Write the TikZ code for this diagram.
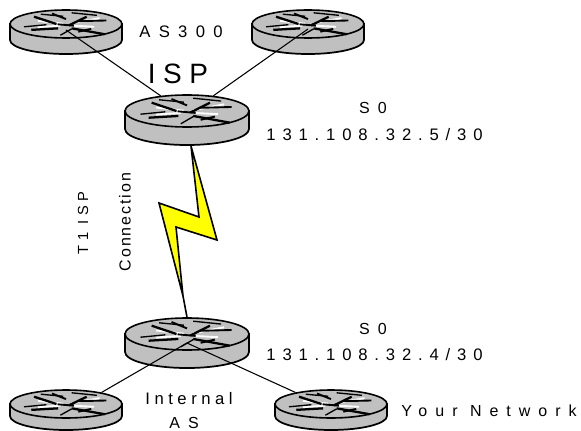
\documentclass[tikz,border=0pt]{standalone}
\usepackage{fontspec}
\setmainfont{Liberation Sans}
\newfontfamily\spaced[LetterSpace=41]{Liberation Sans}
\newfontfamily\wider[LetterSpace=50]{Liberation Sans}
\newfontfamily\tighter[LetterSpace=27]{Liberation Sans}
\newfontfamily\rotspaced[LetterSpace=12]{Liberation Sans}
\newfontfamily\rotwide[LetterSpace=30]{Liberation Sans}
\usetikzlibrary{shapes.geometric}
\definecolor{routergrey}{RGB}{192,192,192}
\definecolor{boltyellow}{RGB}{255,255,0}
\tikzset{
    routertop/.style={ellipse,draw=black,fill=routergrey,line width=1.2pt,inner sep=0pt},
    routerside/.style={draw=black,fill=routergrey,line width=1.3pt},
    linkline/.style={draw=black,line width=0.8pt},
    bolt/.style={draw=black,fill=boltyellow,line width=1.2pt,line join=miter},
    spacedlabel/.style={font=\spaced\fontsize{12.5}{14}\selectfont,inner sep=0pt},
    widelabel/.style={font=\wider\fontsize{12}{14}\selectfont,inner sep=0pt},
}
\newcommand{\routerarrows}{
    \draw[white,line width=1.4pt] (-0.5,-0.22) -- (-0.05,-0.02) (0.6,-0.42) -- (0.1,-0.05) (-0.5,0.22) -- (-0.1,0.12) (0.5,0.2) -- (0.12,0.12);
    \draw[black,line width=1.7pt] (-0.57,-0.52) -- (-0.17,0) (0.37,-0.52) -- (0.05,0.1) (-0.62,0.42) -- (-0.14,0.31) (0.69,0.73) -- (0.1,0.31);
    \draw[black,line width=1.4pt] (-0.25,-0.75) -- (0.0,-0.35) (0.72,-0.25) -- (0.2,-0.2) (-0.15,0.02) -- (0.14,0.12) (0.22,0.55) -- (0.45,0.35);
    \draw[black,line width=1pt] (-0.45,-0.7) -- (-0.05,-0.55) (0.1,-0.8) -- (0.55,-0.62) (-0.75,0.2) -- (-0.35,0.05) (-0.1,0.8) -- (0.1,0.35);
}
\begin{document}
\begin{tikzpicture}[x=0.75pt,y=-0.75pt]
    \useasboundingbox (0,0) rectangle (581,431);
    \foreach \name/\x/\y/\rx/\ry/\dep in {asleft/66/24/56/14/16,asright/308/24/56/14/16,isp/187/111/62/16/18,border/187/334/62/16/18,internal/66/404/56/14/12,yours/331/404/56/14/12}{
        \draw[routerside] (\x-\rx,\y) -- ++(0,\dep) arc[start angle=180,end angle=0,x radius=\rx,y radius=\ry] -- ++(0,-\dep) -- cycle;
        \node[routertop,minimum width=\rx*1.5pt,minimum height=\ry*1.5pt] (\name) at (\x,\y) {};
        \begin{scope}[shift={(\x,\y)},x=\rx*0.75pt,y=-\ry*0.75pt]
            \routerarrows
        \end{scope}
    }
    \coordinate (asleftfoot) at (66,30);
    \coordinate (asrightfoot) at (308,29);
    \coordinate (borderfoot) at (187,343);
    \draw[linkline] (asleftfoot) -- (isp.150);
    \draw[linkline] (asrightfoot) -- (isp.30);
    \draw[linkline] (borderfoot) -- (internal.18);
    \draw[linkline] (borderfoot) -- (yours.162);
    \coordinate (bolttop) at (191,146);
    \coordinate (boltend) at (183,296);
    \draw[bolt] (bolttop) -- (217,240) -- (176,227) -- (boltend) -- (159,203) -- (199,217) -- cycle;
    \draw[black,line width=1.2pt] (boltend) -- (border.north);
    \node[font=\wider\fontsize{12.5}{14}\selectfont,inner sep=0pt] (aslabel) at (181,32) {AS300};
    \node[font=\tighter\fontsize{21}{23}\selectfont,inner sep=0pt] (isplabel) at (178,74) {ISP};
    \node[widelabel] (soupper) at (373,108) {S0};
    \node[spacedlabel] (ipupper) at (374.5,135) {131.108.32.5/30};
    \node[widelabel] (solower) at (373,329) {S0};
    \node[spacedlabel] (iplower) at (374.5,355) {131.108.32.4/30};
    \node[font=\tighter\fontsize{12.5}{14}\selectfont,inner sep=0pt] (internallabel) at (189,399) {Internal};
    \node[widelabel] (aslower) at (184,423) {AS};
    \node[widelabel] (yourlabel) at (489,411) {Your Network};
    \node[font=\rotwide\fontsize{11}{13}\selectfont,inner sep=0pt,rotate=90] (tlabel) at (83,223) {T1 ISP};
    \node[font=\rotspaced\fontsize{12}{14}\selectfont,inner sep=0pt,rotate=90] (connlabel) at (125,222) {Connection};
\end{tikzpicture}
\end{document}
